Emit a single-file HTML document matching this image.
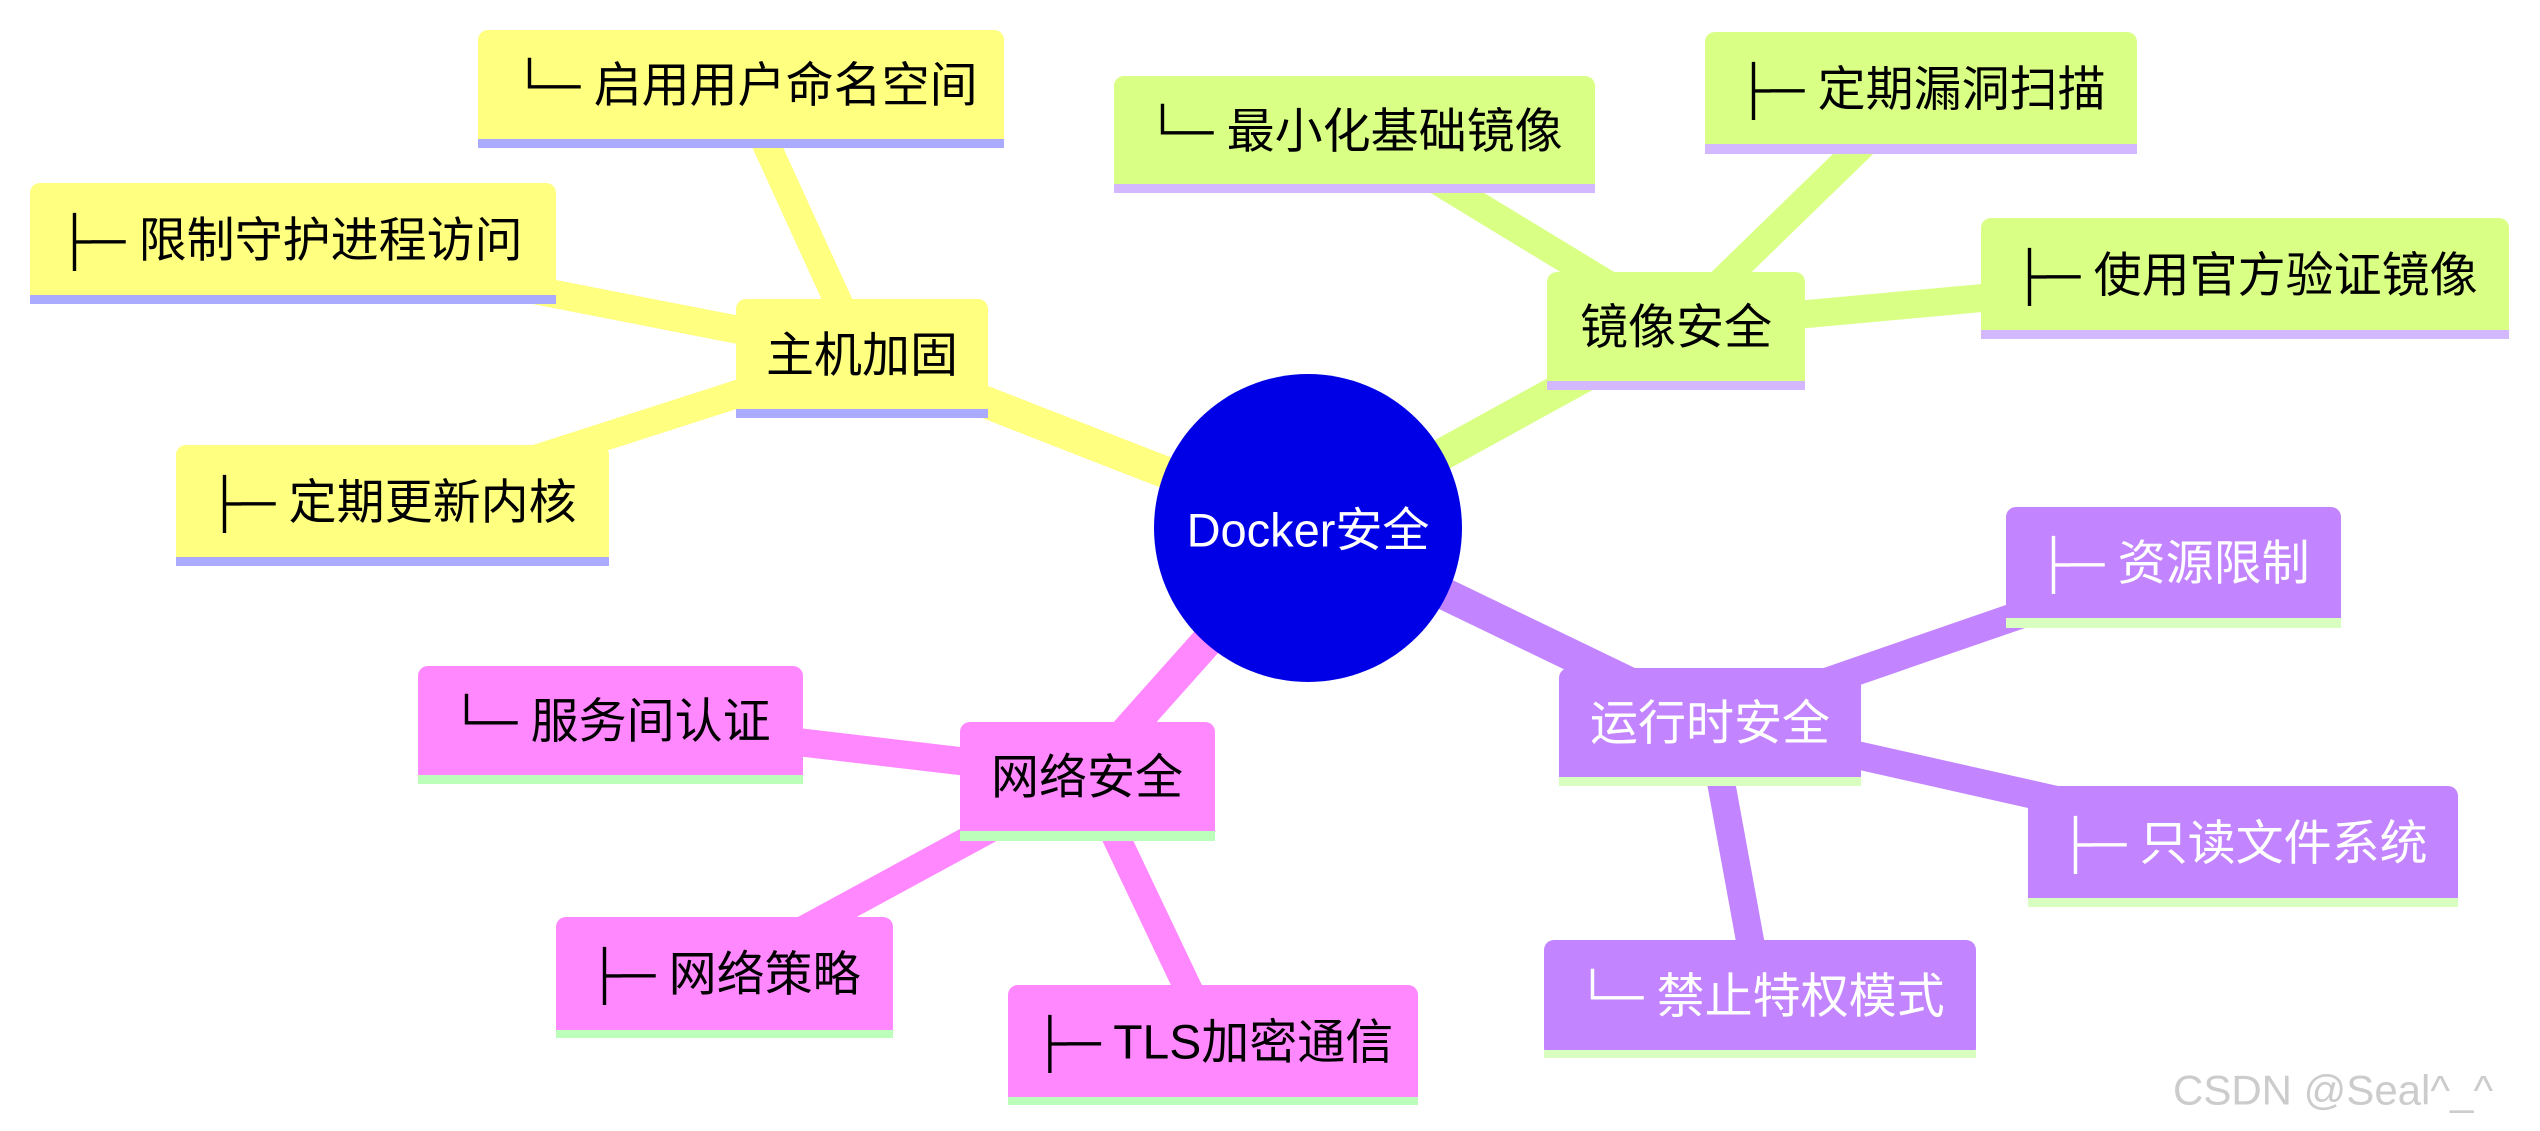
<!DOCTYPE html>
<html><head><meta charset="utf-8"><style>
html,body{margin:0;padding:0;background:#fff;}
svg{display:block;}
text{font-family:"Liberation Sans","Noto Sans CJK SC","DejaVu Sans",sans-serif;}
</style></head><body>
<svg width="2540" height="1131" viewBox="0 0 2540 1131" xmlns="http://www.w3.org/2000/svg">
<g stroke-linecap="butt">
<g stroke="#FFFF80">
<line x1="1308" y1="528" x2="862" y2="354" stroke-width="32"/>
<line x1="741" y1="89" x2="862" y2="354" stroke-width="28"/>
<line x1="293" y1="243" x2="862" y2="354" stroke-width="28"/>
<line x1="392" y1="505" x2="862" y2="354" stroke-width="28"/>
</g>
<g stroke="#D9FF85">
<line x1="1308" y1="528" x2="1676" y2="326" stroke-width="32"/>
<line x1="1354" y1="130" x2="1676" y2="326" stroke-width="28"/>
<line x1="1921" y1="88" x2="1676" y2="326" stroke-width="28"/>
<line x1="2245" y1="274" x2="1676" y2="326" stroke-width="28"/>
</g>
<g stroke="#C285FF">
<line x1="1308" y1="528" x2="1710" y2="722" stroke-width="32"/>
<line x1="2173" y1="562" x2="1710" y2="722" stroke-width="28"/>
<line x1="2243" y1="842" x2="1710" y2="722" stroke-width="28"/>
<line x1="1760" y1="995" x2="1710" y2="722" stroke-width="28"/>
</g>
<g stroke="#FF88FF">
<line x1="1308" y1="528" x2="1087" y2="776" stroke-width="32"/>
<line x1="610" y1="720" x2="1087" y2="776" stroke-width="28"/>
<line x1="724" y1="973" x2="1087" y2="776" stroke-width="28"/>
<line x1="1213" y1="1041" x2="1087" y2="776" stroke-width="28"/>
</g>
</g>

<circle cx="1308" cy="528" r="154" fill="#0000E6"/>
<text x="1308" y="530" font-size="47" fill="#fff" text-anchor="middle" dominant-baseline="central">Docker安全</text>

<g font-size="48" text-anchor="middle" dominant-baseline="central" fill="#000">
<rect x="478" y="30" width="526" height="118" rx="10" fill="#FFFF80"/><rect x="478" y="139" width="526" height="9" fill="#AAAAFF"/>
<text x="745" y="86">└─ 启用用户命名空间</text>
<rect x="30" y="183" width="526" height="121" rx="10" fill="#FFFF80"/><rect x="30" y="295" width="526" height="9" fill="#AAAAFF"/>
<text x="290" y="241">├─ 限制守护进程访问</text>
<rect x="736" y="299" width="252" height="119" rx="10" fill="#FFFF80"/><rect x="736" y="409" width="252" height="9" fill="#AAAAFF"/>
<text x="862" y="356">主机加固</text>
<rect x="176" y="445" width="433" height="121" rx="10" fill="#FFFF80"/><rect x="176" y="557" width="433" height="9" fill="#AAAAFF"/>
<text x="392" y="503">├─ 定期更新内核</text>
</g>

<g font-size="48" text-anchor="middle" dominant-baseline="central" fill="#000">
<rect x="1114" y="76" width="481" height="117" rx="10" fill="#D9FF85"/><rect x="1114" y="184" width="481" height="9" fill="#D4B8FF"/>
<text x="1354" y="132">└─ 最小化基础镜像</text>
<rect x="1705" y="32" width="432" height="122" rx="10" fill="#D9FF85"/><rect x="1705" y="144" width="432" height="10" fill="#D4B8FF"/>
<text x="1921" y="90">├─ 定期漏洞扫描</text>
<rect x="1981" y="218" width="528" height="121" rx="10" fill="#D9FF85"/><rect x="1981" y="330" width="528" height="9" fill="#D4B8FF"/>
<text x="2245" y="276">├─ 使用官方验证镜像</text>
<rect x="1547" y="272" width="258" height="118" rx="10" fill="#D9FF85"/><rect x="1547" y="381" width="258" height="9" fill="#D4B8FF"/>
<text x="1676" y="328">镜像安全</text>
</g>

<g font-size="48" text-anchor="middle" dominant-baseline="central" fill="#fff">
<rect x="2006" y="507" width="335" height="121" rx="10" fill="#C285FF"/><rect x="2006" y="618" width="335" height="10" fill="#D9FFC0"/>
<text x="2173" y="564">├─ 资源限制</text>
<rect x="1559" y="668" width="302" height="118" rx="10" fill="#C285FF"/><rect x="1559" y="777" width="302" height="9" fill="#D9FFC0"/>
<text x="1710" y="724">运行时安全</text>
<rect x="2028" y="786" width="430" height="121" rx="10" fill="#C285FF"/><rect x="2028" y="898" width="430" height="9" fill="#D9FFC0"/>
<text x="2243" y="844">├─ 只读文件系统</text>
<rect x="1544" y="940" width="432" height="118" rx="10" fill="#C285FF"/><rect x="1544" y="1050" width="432" height="8" fill="#D9FFC0"/>
<text x="1760" y="997">└─ 禁止特权模式</text>
</g>

<g font-size="48" text-anchor="middle" dominant-baseline="central" fill="#000">
<rect x="418" y="666" width="385" height="118" rx="10" fill="#FF88FF"/><rect x="418" y="775" width="385" height="9" fill="#BBFFBB"/>
<text x="610" y="722">└─ 服务间认证</text>
<rect x="960" y="722" width="255" height="119" rx="10" fill="#FF88FF"/><rect x="960" y="831" width="255" height="10" fill="#BBFFBB"/>
<text x="1087" y="778">网络安全</text>
<rect x="556" y="917" width="337" height="121" rx="10" fill="#FF88FF"/><rect x="556" y="1030" width="337" height="8" fill="#BBFFBB"/>
<text x="724" y="975">├─ 网络策略</text>
<rect x="1008" y="985" width="410" height="120" rx="10" fill="#FF88FF"/><rect x="1008" y="1097" width="410" height="8" fill="#BBFFBB"/>
<text x="1213" y="1043">├─ TLS加密通信</text>
</g>

<text x="2173" y="1090" font-size="42" fill="#cccccc" dominant-baseline="central">CSDN @Seal^_^</text>
</svg>
</body></html>
